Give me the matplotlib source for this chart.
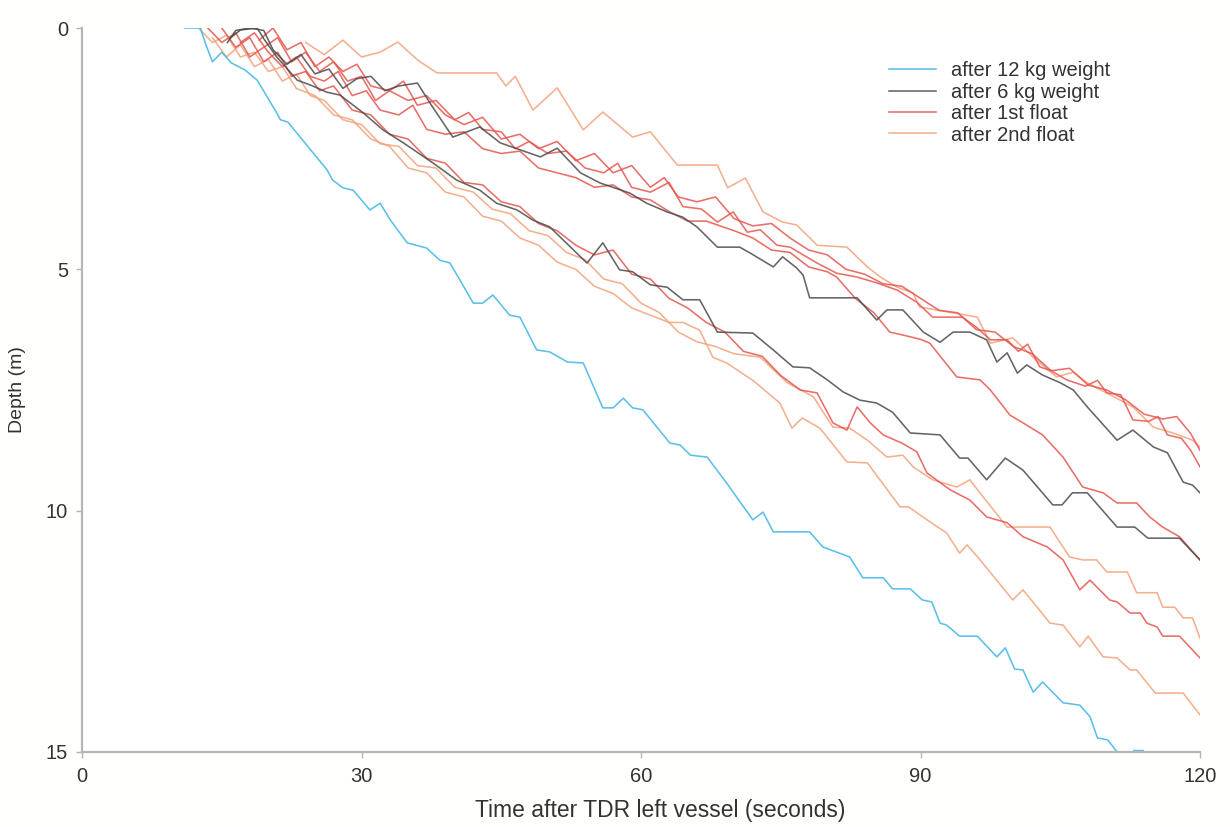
import matplotlib
matplotlib.use("Agg")
import matplotlib.pyplot as plt

plt.rcParams["font.family"] = ["Liberation Sans", "DejaVu Sans"]

# ---- data: (time s, depth m) ----
# after 12 kg weight
w12_t = [11.0, 12.7, 13.3, 14.0, 15.0, 16.0, 17.5, 18.8, 20.9, 21.3, 22.1, 26.3, 26.9, 28.0, 29.1, 30.9,
         32.0, 33.1, 34.9, 37.0, 38.4, 39.5, 42.0, 43.0, 44.1, 45.9, 47.0, 48.8, 50.2, 52.1, 53.8, 55.9,
         57.0, 58.1, 59.1, 60.2, 63.1, 64.2, 65.3, 67.1, 69.2, 72.0, 73.1, 74.2, 78.1, 79.5, 82.4, 83.8,
         86.0, 87.0, 88.9, 90.2, 91.2, 92.1, 92.8, 94.2, 96.1, 98.2, 99.1, 100.1, 101.0, 102.1, 103.1,
         105.3, 107.1, 108.2, 109.0, 110.1, 111.1, 112.0, 112.9, 113.9, 114.6]
w12_d = [0.0, 0.0, 0.35, 0.7, 0.5, 0.72, 0.87, 1.08, 1.76, 1.9, 1.95, 2.94, 3.15, 3.31, 3.36, 3.77,
         3.63, 3.98, 4.45, 4.56, 4.81, 4.87, 5.70, 5.70, 5.53, 5.95, 5.99, 6.67, 6.71, 6.92, 6.94, 7.87,
         7.87, 7.67, 7.87, 7.91, 8.60, 8.64, 8.85, 8.89, 9.43, 10.19, 10.03, 10.44, 10.44, 10.75, 10.96, 11.39,
         11.39, 11.62, 11.62, 11.85, 11.89, 12.33, 12.37, 12.60, 12.60, 13.03, 12.84, 13.28, 13.30, 13.76, 13.55,
         13.98, 14.03, 14.27, 14.71, 14.75, 15.0, 15.35, 14.97, 14.97, 15.4]

# after 6 kg weight (two drops)
w6a_t = [15.9, 17.0, 18.8, 19.6, 20.9, 23.1, 24.5, 26.3, 27.7, 30.2, 32.3, 34.5, 37.7, 40.2, 42.7, 44.5,
         46.7, 48.4, 50.2, 54.2, 55.9, 57.7, 59.1, 61.0, 62.8, 64.5, 66.3, 68.2, 72.0, 74.2, 76.3, 78.1,
         80.0, 81.7, 83.5, 85.3, 87.0, 88.9, 92.1, 94.2, 95.1, 97.1, 99.1, 101.0, 104.2, 105.2, 106.3,
         107.9, 111.1, 113.0, 114.4, 117.8, 120.0]
w6a_d = [0.21, 0.04, 0.0, 0.25, 0.60, 1.08, 1.18, 1.33, 1.39, 1.76, 2.11, 2.38, 2.80, 3.15, 3.36, 3.63,
         3.77, 3.98, 4.12, 4.87, 4.45, 5.01, 5.05, 5.32, 5.37, 5.63, 5.63, 6.30, 6.32, 6.67, 7.02, 7.04,
         7.29, 7.54, 7.71, 7.77, 7.96, 8.39, 8.43, 8.91, 8.91, 9.36, 8.91, 9.16, 9.88, 9.88, 9.63,
         9.63, 10.34, 10.34, 10.57, 10.57, 11.02]
w6b_t = [15.6, 16.5, 18.0, 19.5, 20.5, 22.0, 23.5, 25.0, 26.5, 28.0, 29.5, 31.0, 32.5, 34.0, 36.0, 37.5,
         39.8, 42.7, 44.9, 49.2, 51.0, 53.5, 55.6, 58.8, 60.6, 62.8, 64.5, 66.0, 68.2, 70.6, 71.7, 74.2,
         75.2, 76.7, 77.4, 78.1, 83.2, 85.3, 86.4, 88.1, 90.3, 92.1, 93.5, 95.3, 97.1, 98.2, 99.3, 100.4,
         101.4, 103.1, 105.0, 106.4, 107.9, 111.1, 112.8, 115.0, 116.5, 118.2, 119.2, 120.0]
w6b_d = [0.3, 0.05, 0.0, 0.05, 0.45, 0.75, 0.55, 0.95, 0.85, 1.25, 1.05, 1.0, 1.3, 1.2, 1.14, 1.6,
         2.26, 2.05, 2.38, 2.67, 2.49, 3.0, 3.21, 3.42, 3.63, 3.81, 3.92, 4.12, 4.54, 4.54, 4.66, 4.95,
         4.74, 4.97, 5.12, 5.59, 5.59, 6.05, 5.84, 5.84, 6.30, 6.51, 6.30, 6.30, 6.46, 6.92, 6.73, 7.15,
         6.98, 7.19, 7.35, 7.50, 7.85, 8.54, 8.33, 8.68, 8.80, 9.41, 9.47, 9.63]

# after 1st float
f1a_t = [19.0, 20.5, 22.0, 23.5, 25.0, 26.5, 28.0, 29.5, 31.0, 33.0, 34.5, 36.0, 38.0, 40.0, 41.5, 43.0,
         45.0, 46.5, 48.0, 50.0, 52.0, 54.0, 56.0, 57.5, 59.0, 61.0, 63.0, 64.5, 66.5, 68.2, 69.9, 71.4,
         72.8, 74.6, 76.0, 78.9, 81.0, 83.2, 85.3, 87.5, 89.6, 91.3, 94.5, 96.0, 97.5, 99.3, 100.5, 101.5,
         102.8, 104.0, 105.7, 107.7, 109.0, 110.0, 111.5, 112.8, 114.5, 115.5, 116.5, 118.0, 119.0, 120.0]
f1a_d = [0.25, 0.0, 0.45, 0.3, 0.8, 0.6, 0.9, 0.75, 1.2, 1.3, 1.1, 1.6, 1.5, 1.9, 1.75, 2.1,
         2.15, 2.5, 2.35, 2.6, 2.55, 2.9, 3.0, 2.8, 3.3, 3.4, 3.2, 3.7, 3.75, 4.02, 3.81, 4.23,
         4.18, 4.50, 4.54, 4.87, 5.08, 5.16, 5.28, 5.43, 5.68, 5.99, 5.99, 6.2, 6.46, 6.46, 6.7, 6.55,
         7.02, 7.1, 7.29, 7.42, 7.3, 7.56, 7.6, 8.12, 8.15, 8.05, 8.43, 8.5, 8.75, 9.09]
f1b_t = [13.5, 15.0, 16.5, 18.0, 19.5, 21.0, 22.5, 24.0, 25.5, 27.0, 28.5, 30.0, 31.5, 33.0, 35.0, 37.0,
         39.0, 41.0, 43.0, 45.0, 47.0, 49.0, 51.0, 53.0, 55.0, 57.0, 59.0, 61.0, 62.5, 64.0, 66.0, 68.0,
         70.0, 72.0, 74.0, 76.0, 78.0, 80.0, 82.0, 84.0, 86.0, 88.0, 90.0, 92.0, 94.0, 96.0, 98.0, 100.0,
         102.0, 104.0, 106.0, 108.0, 110.0, 112.0, 114.0, 116.0, 117.5, 119.0, 120.0]
f1b_d = [0.0, 0.3, 0.1, 0.6, 0.4, 0.2, 0.7, 0.5, 0.9, 0.7, 1.1, 1.0, 1.5, 1.3, 1.5, 1.4,
         1.8, 2.0, 1.85, 2.3, 2.2, 2.5, 2.35, 2.75, 2.6, 3.0, 2.85, 3.3, 3.1, 3.5, 3.6, 3.5,
         3.95, 4.1, 4.05, 4.35, 4.6, 4.7, 5.0, 5.1, 5.3, 5.35, 5.6, 5.85, 5.9, 6.25, 6.3, 6.6,
         6.75, 7.1, 7.05, 7.4, 7.5, 7.7, 8.0, 8.1, 8.05, 8.4, 8.75]
f1c_t = [17.0, 18.5, 20.0, 21.5, 23.0, 24.5, 26.0, 27.5, 29.0, 30.5, 32.0, 34.0, 35.5, 37.0, 39.0, 41.0,
         43.0, 45.0, 47.0, 49.0, 51.0, 53.0, 55.0, 57.0, 59.0, 61.0, 63.0, 65.0, 67.0, 70.0, 72.0, 74.0,
         76.0, 78.0, 80.0, 81.0, 83.0, 85.0, 86.7, 88.1, 90.0, 91.0, 93.9, 96.4, 97.5, 99.6, 101.0, 103.1,
         105.3, 107.4, 109.6, 111.1, 113.2, 114.6, 116.0, 117.8, 120.0]
f1c_d = [0.3, 0.1, 0.5, 0.8, 0.6, 1.0, 1.1, 0.9, 1.4, 1.3, 1.7, 1.8, 1.6, 2.1, 2.2, 2.15,
         2.5, 2.6, 2.55, 2.9, 3.0, 3.1, 3.3, 3.25, 3.5, 3.56, 3.8, 4.0, 4.0, 4.2, 4.35, 4.6,
         4.65, 4.95, 5.05, 5.16, 5.6, 5.9, 6.30, 6.36, 6.45, 6.53, 7.23, 7.29, 7.50, 8.02, 8.18, 8.43,
         8.89, 9.51, 9.63, 9.84, 9.84, 10.13, 10.34, 10.54, 11.02]
f1d_t = [15.0, 16.5, 18.0, 19.5, 21.0, 22.5, 24.0, 25.5, 27.0, 29.0, 31.0, 33.0, 35.0, 37.0, 39.0, 41.0,
         43.0, 45.0, 47.0, 49.0, 51.0, 53.0, 55.0, 57.0, 59.0, 61.0, 63.0, 65.0, 67.0, 69.0, 71.0, 73.0,
         75.0, 77.1, 78.9, 80.6, 82.1, 83.2, 84.6, 86.0, 88.0, 89.6, 90.7, 93.2, 95.3, 97.1, 99.3, 101.0,
         103.6, 105.3, 107.1, 108.2, 110.3, 111.1, 112.5, 113.6, 114.3, 115.4, 116.0, 117.8, 120.0]
f1d_d = [0.0, 0.4, 0.2, 0.7, 0.5, 1.0, 0.9, 1.3, 1.2, 1.7, 1.8, 2.2, 2.3, 2.7, 2.8, 3.2,
         3.25, 3.6, 3.7, 4.05, 4.2, 4.5, 4.7, 4.6, 5.1, 5.2, 5.6, 5.8, 6.1, 6.3, 6.7, 6.8,
         7.2, 7.50, 7.56, 8.18, 8.33, 7.85, 8.18, 8.43, 8.6, 8.78, 9.22, 9.57, 9.78, 10.13, 10.25, 10.54,
         10.75, 11.02, 11.64, 11.44, 11.85, 11.89, 12.12, 12.12, 12.33, 12.41, 12.60, 12.60, 13.05]

# after 2nd float
f2a_t = [24.0, 26.0, 28.0, 30.0, 32.0, 33.9, 36.0, 38.1, 44.5, 45.5, 46.5, 48.4, 51.0, 53.8, 55.9, 59.1,
         61.0, 63.9, 68.2, 69.3, 71.2, 73.1, 75.2, 76.7, 78.9, 82.1, 84.3, 85.7, 87.5, 89.2, 89.9, 96.1,
         97.5, 99.9, 102.1, 104.6, 106.4, 107.9, 112.8, 115.0, 117.1, 119.2, 120.0]
f2a_d = [0.30, 0.55, 0.25, 0.60, 0.50, 0.29, 0.66, 0.93, 0.93, 1.2, 1.0, 1.70, 1.24, 2.11, 1.74, 2.26,
         2.15, 2.84, 2.84, 3.31, 3.11, 3.81, 4.02, 4.08, 4.50, 4.54, 4.95, 5.16, 5.37, 5.49, 5.78, 5.99,
         6.53, 6.42, 6.82, 7.23, 7.13, 7.35, 7.85, 8.27, 8.39, 8.54, 8.68]
f2b_t = [14.0, 15.5, 17.0, 18.5, 20.0, 21.5, 23.0, 24.5, 26.0, 28.0, 30.0, 32.0, 34.0, 36.0, 38.0, 40.0,
         42.0, 44.0, 46.0, 48.0, 50.0, 52.0, 54.0, 56.0, 58.0, 60.0, 62.0, 64.0, 66.0, 68.0, 70.0, 72.8,
         75.7, 78.5, 80.6, 82.4, 84.3, 86.4, 88.1, 89.2, 91.3, 93.9, 95.3, 96.7, 99.3, 103.9, 106.0, 107.4,
         108.9, 110.0, 112.2, 113.2, 115.4, 116.0, 117.3, 118.2, 119.2, 120.0]
f2b_d = [0.2, 0.6, 0.35, 0.8, 0.65, 1.1, 0.95, 1.4, 1.5, 1.9, 2.0, 2.4, 2.45, 2.85, 2.9, 3.3,
         3.4, 3.75, 3.85, 4.2, 4.3, 4.65, 4.8, 5.2, 5.3, 5.7, 5.9, 6.3, 6.5, 6.6, 6.75, 6.82,
         7.35, 7.64, 8.27, 8.29, 8.54, 8.89, 8.85, 9.09, 9.36, 9.51, 9.36, 9.71, 10.34, 10.34, 10.96, 11.02,
         11.02, 11.27, 11.27, 11.70, 11.70, 12.0, 12.0, 12.22, 12.22, 12.64]
f2c_t = [12.5, 14.0, 15.5, 17.0, 18.5, 20.0, 21.5, 23.0, 25.0, 27.0, 29.0, 31.0, 33.0, 35.0, 37.0, 39.0,
         41.0, 43.0, 45.0, 47.0, 49.0, 51.0, 53.0, 55.0, 57.0, 59.0, 61.0, 63.0, 64.5, 66.3, 67.7, 69.2,
         72.0, 74.9, 76.2, 77.3, 79.2, 82.1, 84.3, 87.8, 88.7, 90.7, 92.8, 94.2, 95.0, 96.4, 99.9, 101.0,
         103.9, 105.3, 107.1, 108.0, 109.6, 111.1, 112.5, 113.2, 115.2, 118.2, 120.0]
f2c_d = [0.0, 0.3, 0.15, 0.6, 0.5, 0.9, 0.8, 1.25, 1.4, 1.8, 1.9, 2.3, 2.45, 2.9, 3.0, 3.4,
         3.5, 3.9, 4.0, 4.35, 4.5, 4.85, 5.0, 5.35, 5.5, 5.8, 5.95, 6.1, 6.1, 6.26, 6.82, 6.94,
         7.3, 7.77, 8.29, 8.08, 8.29, 8.99, 9.01, 9.92, 9.92, 10.19, 10.46, 10.88, 10.71, 11.02, 11.85, 11.64,
         12.33, 12.37, 12.82, 12.60, 13.03, 13.05, 13.30, 13.30, 13.78, 13.78, 14.23]

labels = ["after 12 kg weight", "after 6 kg weight", "after 1st float", "after 2nd float"]
colors = ["#3db5e6", "#4a4a4a", "#e5554d", "#f3a27a"]

groups = [
    [(w12_t, w12_d)],
    [(w6a_t, w6a_d), (w6b_t, w6b_d)],
    [(f1a_t, f1a_d), (f1b_t, f1b_d), (f1c_t, f1c_d), (f1d_t, f1d_d)],
    [(f2a_t, f2a_d), (f2b_t, f2b_d), (f2c_t, f2c_d)],
]

fig = plt.figure(figsize=(12.3, 8.27), dpi=100)
ax = fig.add_axes([0.0667, 0.0907, 0.9089, 0.8754])

# draw floats first so the weights sit on top
for i in [3, 2, 1, 0]:
    for k, (t, d) in enumerate(groups[i]):
        ax.plot(t, d, color=colors[i], lw=1.15, alpha=0.85,
                label=labels[i] if k == 0 else None)

ax.set_xlim(0, 120)
ax.set_ylim(15, 0)
ax.set_xticks([0, 30, 60, 90, 120])
ax.set_yticks([0, 5, 10, 15])

for s in ["top", "right"]:
    ax.spines[s].set_visible(False)
for s in ["left", "bottom"]:
    ax.spines[s].set_color("#b5b5b5")
    ax.spines[s].set_linewidth(1.6)
ax.tick_params(colors="#b5b5b5", labelcolor="#333333", labelsize=14.5, length=4, width=1)
ax.tick_params(axis="x", pad=7)
ax.tick_params(axis="y", pad=6)

ax.set_xlabel("Time after TDR left vessel (seconds)", fontsize=16.5, color="#333333", labelpad=9)
ax.xaxis.set_label_coords(0.517, -0.065)
ax.set_ylabel("Depth (m)", fontsize=14, color="#333333", labelpad=14)

h, l = ax.get_legend_handles_labels()
order = [l.index(x) for x in labels]
ax.legend([h[j] for j in order], labels, loc="upper left", bbox_to_anchor=(0.713, 0.968),
          frameon=False, fontsize=14.5, handlelength=2.3, labelspacing=0.12, handletextpad=0.75,
          borderpad=0, labelcolor="#333333")

fig.savefig("out.png", dpi=100, facecolor="#fffffd")
